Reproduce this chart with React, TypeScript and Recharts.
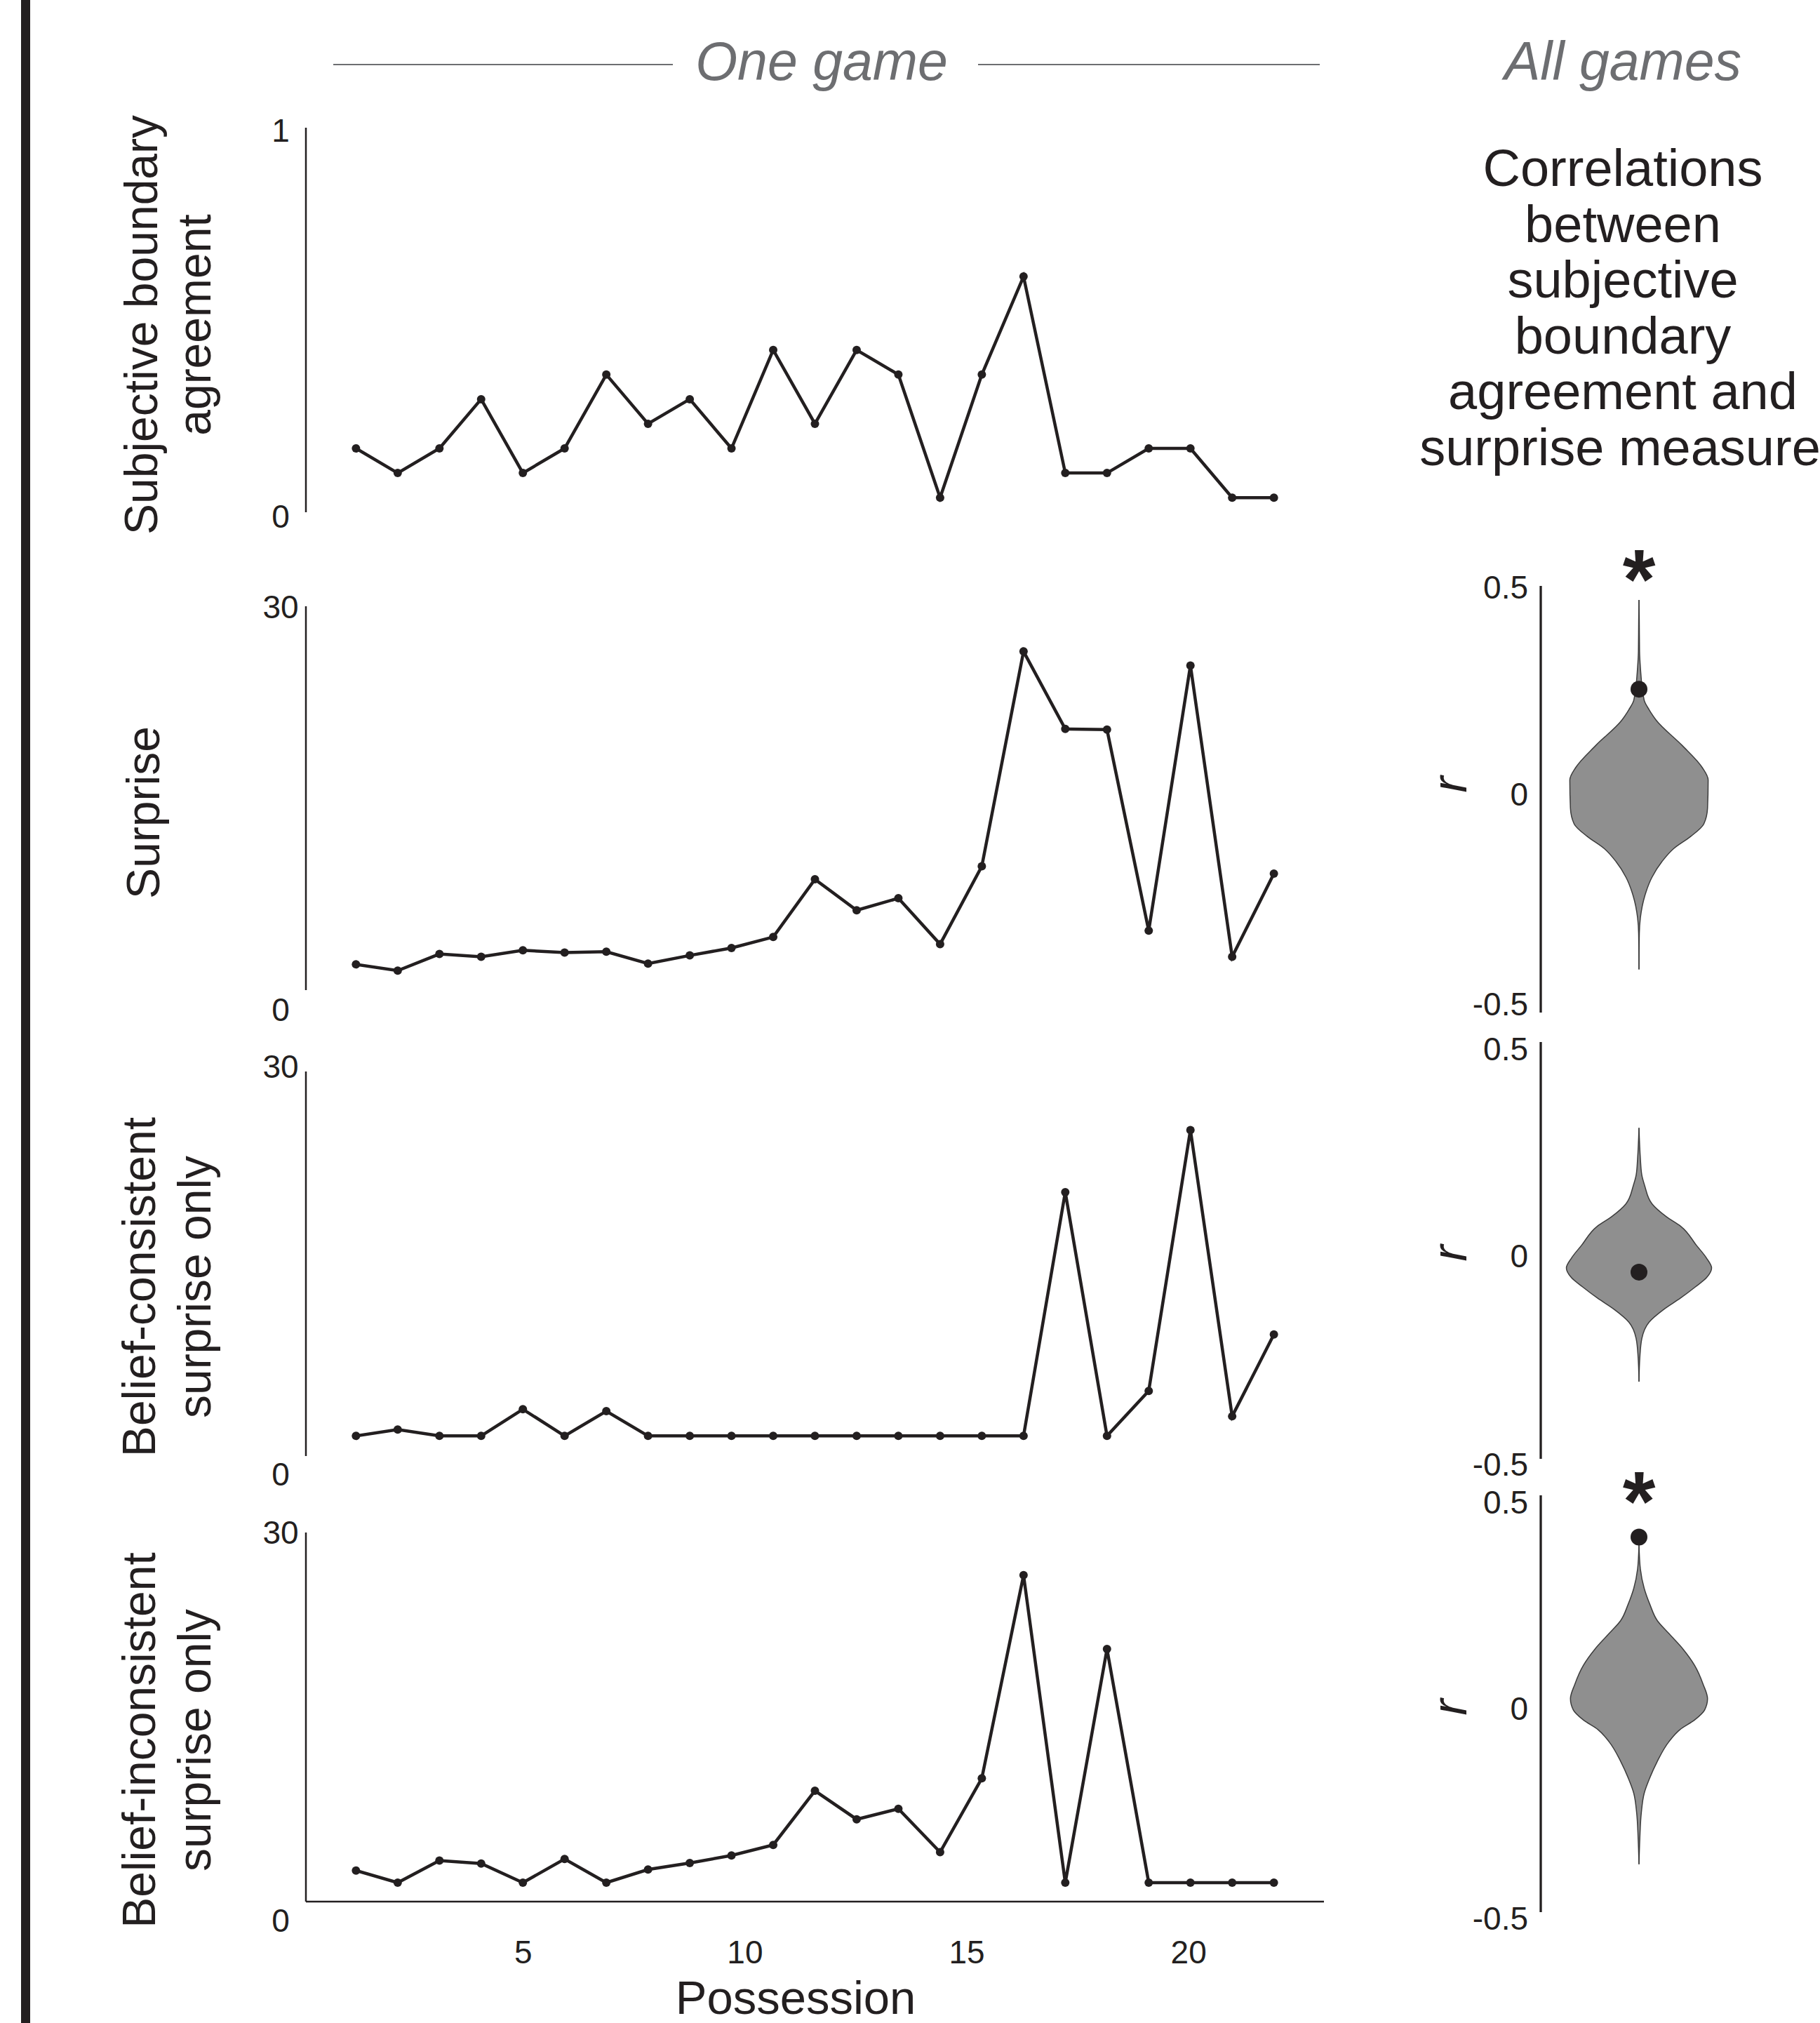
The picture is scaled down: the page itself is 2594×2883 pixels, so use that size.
import React from 'react';
import { LineChart, Line, XAxis, YAxis, ComposedChart, Area, ReferenceDot } from 'recharts';

const INK = '#231f20';
const HEAD = '#6d6e71';
const FONT = '"Liberation Sans", Arial, Helvetica, sans-serif';

// one game: values per possession
const possession = [1, 2, 3, 4, 5, 6, 7, 8, 9, 10, 11, 12, 13, 14, 15, 16, 17, 18, 19, 20, 21, 22, 23];
const possessionTicks = [5, 10, 15, 20];

const boundaryAgreement = [0.166, 0.102, 0.166, 0.294, 0.102, 0.166, 0.358, 0.23, 0.294, 0.166, 0.422, 0.23, 0.422, 0.358, 0.038, 0.358, 0.613, 0.102, 0.102, 0.166, 0.166, 0.038, 0.038];
const surprise = [2.01, 1.52, 2.82, 2.6, 3.11, 2.93, 3.0, 2.07, 2.71, 3.29, 4.15, 8.66, 6.24, 7.18, 3.59, 9.68, 26.47, 20.41, 20.36, 4.65, 25.37, 2.6, 9.1];
const consistentSurprise = [1.57, 2.07, 1.57, 1.57, 3.65, 1.57, 3.5, 1.57, 1.57, 1.57, 1.57, 1.57, 1.57, 1.57, 1.57, 1.57, 1.57, 20.59, 1.57, 5.08, 25.43, 3.1, 9.48];
const inconsistentSurprise = [2.53, 1.54, 3.33, 3.09, 1.54, 3.46, 1.54, 2.61, 3.14, 3.75, 4.61, 9.01, 6.69, 7.54, 4.02, 10.02, 26.53, 1.54, 20.53, 1.54, 1.54, 1.54, 1.54];

// all games: violin outlines (r grid, half width of density), observed r
const violin1R = [0.467, 0.419, 0.346, 0.309, 0.232, 0.21, 0.185, 0.126, 0.074, 0.045, -0.021, -0.058, -0.087, -0.116, -0.146, -0.183, -0.227, -0.278, -0.314, -0.399];
const violin1W = [0, 0.004, 0.008, 0.02, 0.074, 0.144, 0.246, 0.616, 0.903, 0.986, 0.977, 0.924, 0.739, 0.493, 0.328, 0.185, 0.082, 0.02, 0.005, 0];
const violin2R = [0.294, 0.22, 0.181, 0.155, 0.112, 0.081, 0.058, 0.012, -0.019, -0.042, -0.065, -0.088, -0.114, -0.142, -0.172, -0.211, -0.257, -0.315];
const violin2W = [0, 0.02, 0.04, 0.082, 0.185, 0.39, 0.595, 0.82, 0.965, 1.035, 0.965, 0.8, 0.595, 0.349, 0.144, 0.041, 0.012, 0];
const violin3R = [0.381, 0.323, 0.277, 0.238, 0.2, 0.169, 0.131, 0.092, 0.046, 0.012, -0.015, -0.039, -0.062, -0.092, -0.139, -0.177, -0.215, -0.262, -0.323, -0.385];
const violin3W = [0, 0.02, 0.074, 0.156, 0.259, 0.423, 0.628, 0.793, 0.916, 0.977, 0.936, 0.793, 0.585, 0.423, 0.259, 0.156, 0.074, 0.033, 0.012, 0];
const observedR = [0.258, -0.052, 0.4];
const significant = [true, false, true];
const rTicks = [0.5, 0, -0.5];

const corrTitle = ['Correlations', 'between', 'subjective', 'boundary', 'agreement and', 'surprise measure'];

function LeftTick(props: any) {
  const { x, y, payload, zeroDy, maxDy } = props;
  const dy = payload.value === 0 ? zeroDy : maxDy;
  return (
    <text x={x - 36} y={y + dy} textAnchor="middle" dominantBaseline="central" fontSize={46} fill={INK}>
      {payload.value}
    </text>
  );
}

function BottomTick(props: any) {
  const { x, y, payload } = props;
  return (
    <text x={x} y={y + 72} textAnchor="middle" dominantBaseline="central" fontSize={46} fill={INK}>
      {payload.value}
    </text>
  );
}

function RTick(props: any) {
  const { x, y, payload, dys } = props;
  const i = rTicks.indexOf(payload.value);
  return (
    <text x={x - 18} y={y + dys[i]} textAnchor="end" dominantBaseline="central" fontSize={46} fill={INK}>
      {payload.value}
    </text>
  );
}

function LinePanel({ values, max, top, bottom, zeroDy, maxDy, showX }: any) {
  const data = possession.map((p, i) => ({ p, v: values[i] }));
  const padTop = 60;
  const padBottom = showX ? 2883 - bottom : 60;
  const height = bottom - top + padTop + padBottom;
  return (
    <div style={{ position: 'absolute', left: 0, top: top - padTop }}>
      <LineChart width={1950} height={height} data={data} margin={{ top: padTop, right: 63, bottom: showX ? 0 : padBottom, left: 376 }}>
        <XAxis xAxisId="data" orientation="top" type="number" dataKey="p" domain={[-0.2, 24.2]} allowDataOverflow hide />
        {showX && (
          <XAxis
            xAxisId="ticks"
            type="number"
            dataKey="p"
            domain={[0.1, 23.05]}
            allowDataOverflow
            ticks={possessionTicks}
            height={padBottom}
            axisLine={{ stroke: INK, strokeWidth: 2.5 }}
            tickLine={false}
            tickSize={0}
            tickMargin={0}
            tick={BottomTick}
          />
        )}
        <YAxis
          type="number"
          domain={[0, max]}
          ticks={[0, max]}
          allowDataOverflow
          width={60}
          axisLine={{ stroke: INK, strokeWidth: 2.5 }}
          tickLine={false}
          tickSize={0}
          tickMargin={0}
          tick={(p: any) => <LeftTick {...p} zeroDy={zeroDy} maxDy={maxDy} />}
        />
        <Line xAxisId="data" dataKey="v" stroke={INK} strokeWidth={4.5} dot={{ r: 6, fill: INK, stroke: INK, strokeWidth: 0 }} isAnimationActive={false} />
      </LineChart>
    </div>
  );
}

function Violin({ rs, ws, obs, sig, top, bottom, dys, starDy }: any) {
  const data = rs.map((r: number, i: number) => ({ r, w: ws[i] }));
  const padTop = 110;
  const h = bottom - top + padTop + 50;
  return (
    <div style={{ position: 'absolute', left: 1900, top: top - padTop }}>
      <ComposedChart layout="vertical" width={694} height={h} data={data} margin={{ top: padTop, right: 118, bottom: 50, left: 256 }}>
        <XAxis type="number" dataKey="w" domain={[-1.4, 1.4]} allowDataOverflow hide />
        <YAxis
          type="number"
          dataKey="r"
          reversed
          domain={[-0.5, 0.5]}
          ticks={rTicks}
          allowDataOverflow
          width={40}
          axisLine={{ stroke: INK, strokeWidth: 3.3 }}
          tickLine={false}
          tickSize={0}
          tickMargin={0}
          tick={(p: any) => <RTick {...p} dys={dys} />}
        />
        <Area
          dataKey={(d: any) => [-d.w, d.w]}
          type="monotone"
          fill="#8f8f8f"
          fillOpacity={1}
          stroke="#3c3c3c"
          strokeWidth={1.5}
          isAnimationActive={false}
        />
        <ReferenceDot x={0} y={obs} r={12} fill={INK} stroke="none" />
        {sig && (
          <ReferenceDot
            x={0}
            y={0.5}
            r={0}
            ifOverflow="visible"
            shape={(p: any) => (
              <text x={p.cx} y={p.cy + starDy} textAnchor="middle" fontSize={120} fontWeight="bold" fill={INK}>
                *
              </text>
            )}
          />
        )}
      </ComposedChart>
    </div>
  );
}

function RotLabel({ x, y, lines, italic, size }: any) {
  return (
    <g>
      {lines.map((t: string, i: number) => (
        <text
          key={t}
          transform={`translate(${x[i]}, ${y}) rotate(-90)`}
          textAnchor="middle"
          fontSize={size}
          fontStyle={italic ? 'italic' : 'normal'}
          fill={INK}
        >
          {t}
        </text>
      ))}
    </g>
  );
}

function Overlay() {
  return (
    <svg width={2594} height={2883} style={{ position: 'absolute', left: 0, top: 0 }}>
      <rect x={30} y={0} width={13} height={2883} fill={INK} />
      <line x1={475} x2={959} y1={92} y2={92} stroke={HEAD} strokeWidth={2} />
      <line x1={1394} x2={1881} y1={92} y2={92} stroke={HEAD} strokeWidth={2} />
      <text x={1171} y={114} textAnchor="middle" fontStyle="italic" fontSize={77} fill={HEAD}>One game</text>
      <text x={2313} y={114} textAnchor="middle" fontStyle="italic" fontSize={77} fill={HEAD}>All games</text>
      {corrTitle.map((t, i) => (
        <text key={t} x={i === corrTitle.length - 1 ? 2309 : 2313} y={265 + i * 79.6} textAnchor="middle" fontSize={74} fill={INK}>{t}</text>
      ))}
      <RotLabel x={[224, 300]} y={463} lines={['Subjective boundary', 'agreement']} size={66} />
      <RotLabel x={[227]} y={1158} lines={['Surprise']} size={66} />
      <RotLabel x={[221, 300]} y={1834} lines={['Belief-consistent', 'surprise only']} size={66} />
      <RotLabel x={[221, 300]} y={2480} lines={['Belief-inconsistent', 'surprise only']} size={66} />
      <RotLabel x={[2090]} y={1118} lines={['r']} size={70} italic />
      <RotLabel x={[2090]} y={1786} lines={['r']} size={70} italic />
      <RotLabel x={[2090]} y={2433} lines={['r']} size={70} italic />
      <text x={1134} y={2870} textAnchor="middle" fontSize={67} fill={INK}>Possession</text>
    </svg>
  );
}

export default function App() {
  return (
    <div style={{ position: 'absolute', left: 0, top: 0, width: 2594, height: 2883, overflow: 'hidden', background: '#fff', fontFamily: FONT }}>
      <Overlay />
      <LinePanel values={boundaryAgreement} max={1} top={182} bottom={730} zeroDy={6} maxDy={4} />
      <LinePanel values={surprise} max={30} top={864} bottom={1411} zeroDy={28} maxDy={1} />
      <LinePanel values={consistentSurprise} max={30} top={1527} bottom={2075} zeroDy={26} maxDy={-7} />
      <LinePanel values={inconsistentSurprise} max={30} top={2184} bottom={2710} zeroDy={27} maxDy={0} showX />
      <Violin rs={violin1R} ws={violin1W} obs={observedR[0]} sig={significant[0]} top={835} bottom={1443} dys={[2, -7, -12]} starDy={32} />
      <Violin rs={violin2R} ws={violin2W} obs={observedR[1]} sig={significant[1]} top={1485} bottom={2079} dys={[10, 8, 8]} starDy={32} />
      <Violin rs={violin3R} ws={violin3W} obs={observedR[2]} sig={significant[2]} top={2131} bottom={2725} dys={[10, 7, 9]} starDy={50} />
    </div>
  );
}
